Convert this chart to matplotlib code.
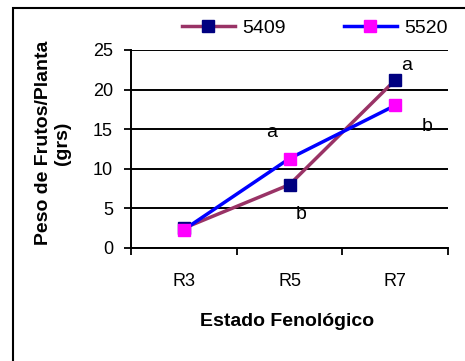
import matplotlib.pyplot as plt
from matplotlib.patches import Rectangle

# datos
estados = ["R3", "R5", "R7"]
peso_5409 = [2.5, 8.0, 21.2]
peso_5520 = [2.3, 11.3, 18.0]
letras = ["a", "b", "a", "b"]
letras_x = [2.11, 2.30, 0.83, 1.11]
letras_y = [23.1, 15.3, 14.6, 4.2]

plt.rcParams['font.family'] = ['Liberation Sans', 'DejaVu Sans']

fig = plt.figure(figsize=(4.65, 3.61), dpi=100)
ax = fig.add_axes([131 / 465, 1 - 248 / 361, (448 - 131) / 465, (248 - 50) / 361])

x = list(range(len(estados)))
ax.plot(x, peso_5409, color="#993366", lw=2.5, marker="s", ms=8,
        mfc="#000080", mec="#000080", label="5409", zorder=3)
ax.plot(x, peso_5520, color="#0000FF", lw=2.5, marker="s", ms=8,
        mfc="#FF00FF", mec="#FF00FF", label="5520", zorder=4)

for t, tx, ty in zip(letras, letras_x, letras_y):
    ax.text(tx, ty, t, fontsize=14, ha="center", va="center")

ax.set_xlim(-0.5, 2.5)
ax.set_ylim(0, 25)
ax.set_yticks(range(0, 26, 5))
ax.set_xticks(x)
ax.set_xticklabels(estados)
ax.set_xticks([-0.5, 0.5, 1.5, 2.5], minor=True)
ax.tick_params(axis="x", which="major", length=0, pad=18, labelsize=13)
ax.tick_params(axis="x", which="minor", length=5, width=1.3, direction="out")
ax.tick_params(axis="y", length=5, width=1.3, direction="out", labelsize=13, pad=8)
ax.grid(axis="y", color="black", lw=1.4)
ax.set_axisbelow(True)
for s in ["top", "right"]:
    ax.spines[s].set_visible(False)
for s in ["left", "bottom"]:
    ax.spines[s].set_linewidth(1.4)
    ax.spines[s].set_zorder(5)

fig.text(287 / 465, 1 - 321 / 361, "Estado Fenológico", fontsize=14, fontweight="bold",
         ha="center", va="center")
fig.text(53 / 465, 1 - 143 / 361, "Peso de Frutos/Planta\n(grs)", fontsize=14,
         fontweight="bold", ha="center", va="center", rotation=90,
         multialignment="center", linespacing=1.1)

ax.legend(loc="center", bbox_to_anchor=(315 / 465, 1 - 28 / 361),
          bbox_transform=fig.transFigure, ncol=2, frameon=False,
          fontsize=14, handlelength=2.7, handletextpad=0.4, columnspacing=3.0)

fig.patches.append(Rectangle((13 / 465, -0.1), 1.2, 1.1 - 8 / 361, transform=fig.transFigure,
                             fill=False, edgecolor="black", lw=1.5, clip_on=False))

fig.savefig("out.png", dpi=100)
